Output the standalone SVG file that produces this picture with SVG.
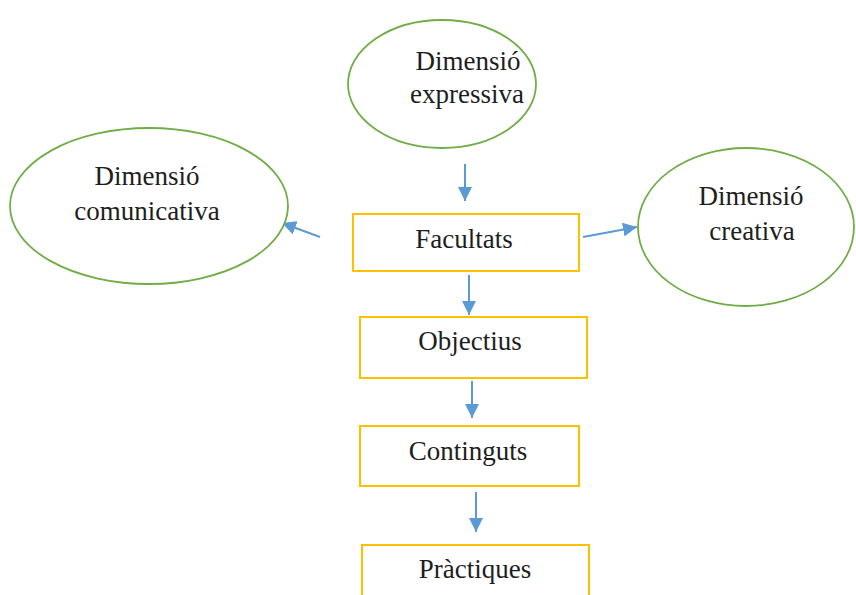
<svg xmlns="http://www.w3.org/2000/svg" width="856" height="595" viewBox="0 0 856 595">
<defs>
<marker id="ah" markerWidth="14" markerHeight="14" refX="10" refY="5" orient="auto" markerUnits="userSpaceOnUse" viewBox="0 0 10 10">
<path d="M0,0 L10,5 L0,10 Z" fill="#5b9bd5"/>
</marker>
</defs>
<style>
.ell{fill:#fff;stroke:#70ad47;stroke-width:1.8}
.box{fill:#fff;stroke:#ffc000;stroke-width:2}
.lbl{font-family:"Liberation Serif","Times New Roman",serif;font-size:27px;fill:#1e1e1e;text-anchor:middle}
.con{stroke:#5b9bd5;stroke-width:2;fill:none;marker-end:url(#ah)}
</style>
<rect width="856" height="595" fill="#fff"/>
<g id="connectors">
<line class="con" x1="465" y1="164" x2="465" y2="201"/>
<line class="con" x1="320" y1="237" x2="282" y2="223"/>
<line class="con" x1="583" y1="237" x2="637" y2="227"/>
<line class="con" x1="469" y1="275" x2="469" y2="315"/>
<line class="con" x1="472" y1="381" x2="472" y2="418"/>
<line class="con" x1="476" y1="492" x2="476" y2="532"/>
</g>
<g id="n-expressiva">
<ellipse class="ell" cx="442" cy="84" rx="94" ry="64"/>
<text class="lbl" x="468" y="70">Dimensió</text>
<text class="lbl" x="467" y="103">expressiva</text>
</g>
<g id="n-comunicativa">
<ellipse class="ell" cx="149" cy="206" rx="139" ry="78"/>
<text class="lbl" x="147" y="185">Dimensió</text>
<text class="lbl" x="147" y="220">comunicativa</text>
</g>
<g id="n-creativa">
<ellipse class="ell" cx="746" cy="227" rx="108" ry="79"/>
<text class="lbl" x="751" y="205">Dimensió</text>
<text class="lbl" x="752" y="240">creativa</text>
</g>
<g id="n-facultats">
<rect class="box" x="353" y="214" width="226" height="57"/>
<text class="lbl" x="464" y="248">Facultats</text>
</g>
<g id="n-objectius">
<rect class="box" x="360" y="317" width="227" height="61"/>
<text class="lbl" x="470" y="350">Objectius</text>
</g>
<g id="n-continguts">
<rect class="box" x="360" y="426" width="219" height="60"/>
<text class="lbl" x="468" y="460">Continguts</text>
</g>
<g id="n-practiques">
<rect class="box" x="362" y="545" width="227" height="60"/>
<text class="lbl" x="475" y="578">Pràctiques</text>
</g>
</svg>
